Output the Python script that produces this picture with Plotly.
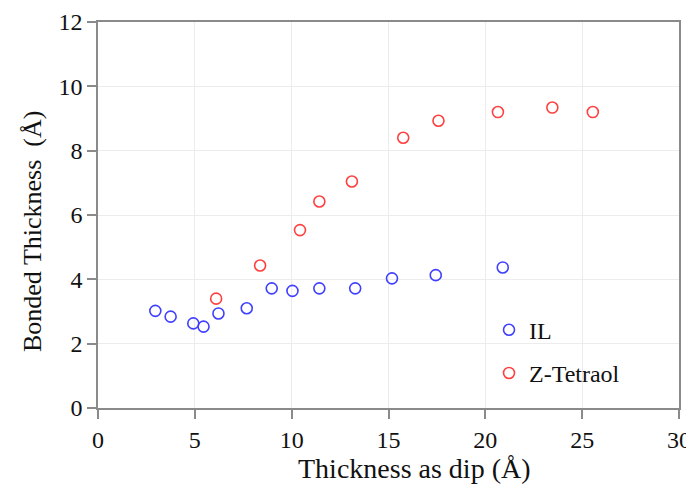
import plotly.graph_objects as go

il_x = [2.96, 3.75, 4.92, 5.45, 6.22, 7.68, 8.97, 10.04, 11.43, 13.28, 15.18, 17.44, 20.9]
il_y = [3.02, 2.84, 2.63, 2.53, 2.94, 3.10, 3.72, 3.64, 3.72, 3.72, 4.03, 4.13, 4.37]

zt_x = [6.1, 8.37, 10.43, 11.43, 13.11, 15.76, 17.58, 20.65, 23.46, 25.55]
zt_y = [3.40, 4.43, 5.53, 6.42, 7.04, 8.40, 8.93, 9.20, 9.34, 9.20]

x_ticks = [0, 5, 10, 15, 20, 25, 30]
y_ticks = [0, 2, 4, 6, 8, 10, 12]

x_title = "Thickness as dip (Å)"
y_title = "Bonded Thickness  (Å)"

FONT = "Liberation Serif, Times New Roman, serif"

fig = go.Figure()
fig.add_trace(go.Scatter(
    x=il_x, y=il_y, mode="markers", name="IL", legendgroup="a",
    marker=dict(symbol="circle-open", size=11, color="#4040ff", line=dict(width=1.6, color="#4040ff")),
))
fig.add_trace(go.Scatter(
    x=zt_x, y=zt_y, mode="markers", name="Z-Tetraol", legendgroup="b",
    marker=dict(symbol="circle-open", size=11, color="#ff4040", line=dict(width=1.6, color="#ff4040")),
))

axis_common = dict(
    showline=True, linecolor="#8a8a8a", linewidth=1.5, mirror=True,
    ticks="outside", ticklen=9, tickwidth=1.5, tickcolor="#8a8a8a",
    showgrid=True, gridcolor="#ececec", gridwidth=1,
    zeroline=False, automargin=False,
    tickfont=dict(family=FONT, size=24, color="#111111"),
)

fig.update_xaxes(range=[0, 30], tickvals=x_ticks, ticktext=[str(v) for v in x_ticks], **axis_common)
fig.update_yaxes(range=[0, 12], tickvals=y_ticks, ticktext=[str(v) for v in y_ticks], **axis_common)

fig.add_annotation(
    text=x_title, xref="paper", yref="paper", x=0.544, y=-0.158,
    xanchor="center", yanchor="middle", showarrow=False,
    font=dict(family=FONT, size=28, color="#111111"),
)
fig.add_annotation(
    text=y_title, xref="paper", yref="paper", x=-0.1136, y=0.4585,
    xanchor="center", yanchor="middle", showarrow=False, textangle=-90,
    font=dict(family=FONT, size=26, color="#111111"),
)

fig.update_layout(
    width=686, height=480,
    margin=dict(l=90, r=15, t=14, b=80),
    paper_bgcolor="white", plot_bgcolor="white",
    showlegend=True,
    legend=dict(
        x=0.673, y=0.26, xanchor="left", yanchor="top",
        font=dict(family=FONT, size=24, color="#111111"),
        bgcolor="rgba(255,255,255,0)",
        traceorder="grouped", tracegroupgap=9,
        itemwidth=30,
    ),
)

fig.write_html("out.html")
